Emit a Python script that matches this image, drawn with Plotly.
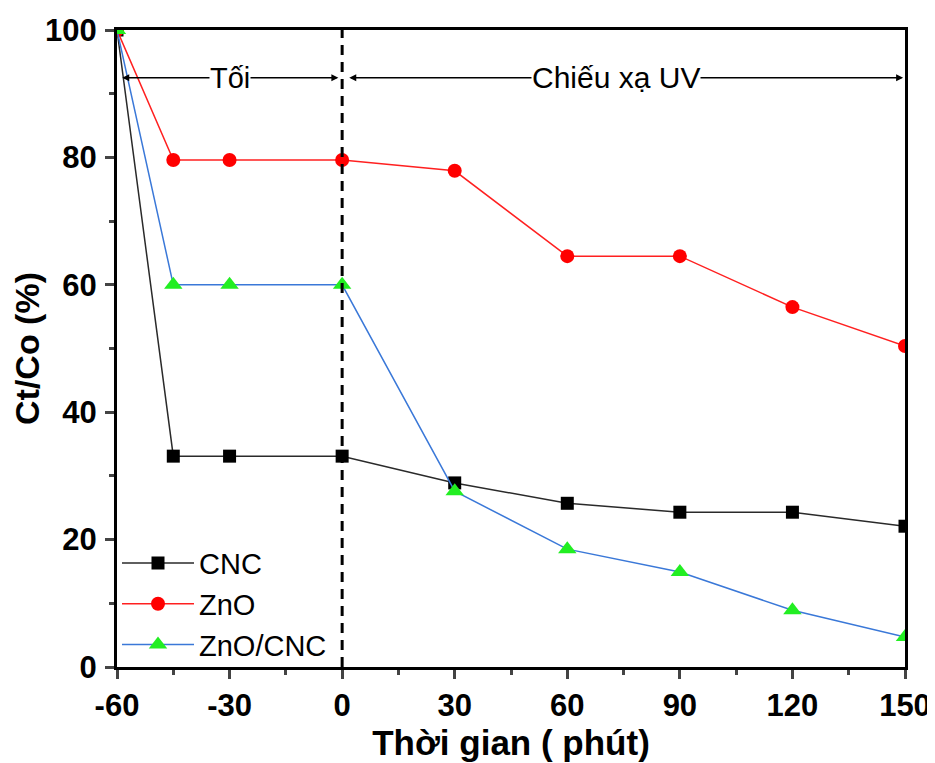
import plotly.graph_objects as go

time_min = [-60, -45, -30, 0, 30, 60, 90, 120, 150]
cnc = [100, 33.1, 33.1, 33.1, 28.9, 25.7, 24.3, 24.3, 22.1]
zno = [100, 79.6, 79.6, 79.6, 77.9, 64.5, 64.5, 56.5, 50.4]
zno_cnc = [100, 60.0, 60.0, 60.0, 27.6, 18.5, 14.9, 8.9, 4.7]
x_ticks = [-60, -30, 0, 30, 60, 90, 120, 150]
x_tick_labels = ["-60", "-30", "0", "30", "60", "90", "120", "150"]
y_ticks = [0, 20, 40, 60, 80, 100]

FONT = "Liberation Sans, Arial, sans-serif"

fig = go.Figure()
fig.add_trace(go.Scatter(x=time_min, y=cnc, name="CNC", mode="lines+markers",
                         line=dict(color="#2a2a2a", width=1.5),
                         marker=dict(symbol="square", size=13, color="black")))
fig.add_trace(go.Scatter(x=time_min, y=zno, name="ZnO", mode="lines+markers",
                         line=dict(color="#ff2020", width=1.5),
                         marker=dict(symbol="circle", size=14, color="#ff0000")))
fig.add_trace(go.Scatter(x=time_min, y=zno_cnc, name="ZnO/CNC", mode="lines+markers",
                         line=dict(color="#3a78d8", width=1.5),
                         marker=dict(symbol="triangle-up", size=16, color="#22ee22")))

# dashed separator at t = 0
fig.add_shape(type="line", x0=0, x1=0, y0=0, y1=100, xref="x", yref="y",
              line=dict(color="black", width=3, dash="10px,7px"))

arrow_y = 92.5
for x0, x1 in [(-59, -1), (1.5, 149.5)]:
    fig.add_annotation(x=x1, y=arrow_y, ax=x0, ay=arrow_y, xref="x", yref="y",
                       axref="x", ayref="y", text="", showarrow=True,
                       arrowhead=2, arrowside="end+start", arrowsize=1,
                       arrowwidth=1.4, arrowcolor="black")

fig.add_annotation(x=-30, y=arrow_y, text="Tối", showarrow=False, xref="x", yref="y",
                   bgcolor="white", borderpad=0,
                   font=dict(family=FONT, size=29, color="black"))
fig.add_annotation(x=73, y=arrow_y, text="Chiếu xạ UV", showarrow=False, xref="x", yref="y",
                   bgcolor="white", borderpad=0,
                   font=dict(family=FONT, size=30, color="black"))

fig.update_xaxes(range=[-60, 150], tickvals=x_ticks, ticktext=x_tick_labels,
                 ticks="outside", ticklen=9, tickwidth=2.5, automargin=False,
                 showline=True, linewidth=3, linecolor="black", mirror=True,
                 showgrid=False, zeroline=False,
                 minor=dict(dtick=15, tick0=-60, ticks="outside", ticklen=5, tickwidth=2.5, showgrid=False),
                 tickfont=dict(family=FONT, size=31, color="black", weight="bold"),
                 title=dict(text="Thời gian ( phút)", standoff=8,
                            font=dict(family=FONT, size=35, color="black", weight="bold")))
fig.update_yaxes(range=[0, 100], tickvals=y_ticks, ticks="outside", ticklen=9, tickwidth=2.5,
                 showline=True, linewidth=3, linecolor="black", mirror=True, automargin=False,
                 showgrid=False, zeroline=False, ticklabelstandoff=2,
                 minor=dict(dtick=10, tick0=0, ticks="outside", ticklen=5, tickwidth=2.5, showgrid=False),
                 tickfont=dict(family=FONT, size=31, color="black", weight="bold"),
                 title=dict(text="Ct/Co (%)", standoff=2,
                            font=dict(family=FONT, size=34, color="black", weight="bold")))

fig.update_layout(width=935, height=763, plot_bgcolor="white", paper_bgcolor="white",
                  margin=dict(l=109, r=38, t=22, b=104),
                  legend=dict(x=0.0, y=0.203, xanchor="left", yanchor="top",
                              bgcolor="rgba(0,0,0,0)", itemwidth=72,
                              font=dict(family=FONT, size=29, color="black"),
                              tracegroupgap=0),
                  showlegend=True)

fig.write_html("out.html")
